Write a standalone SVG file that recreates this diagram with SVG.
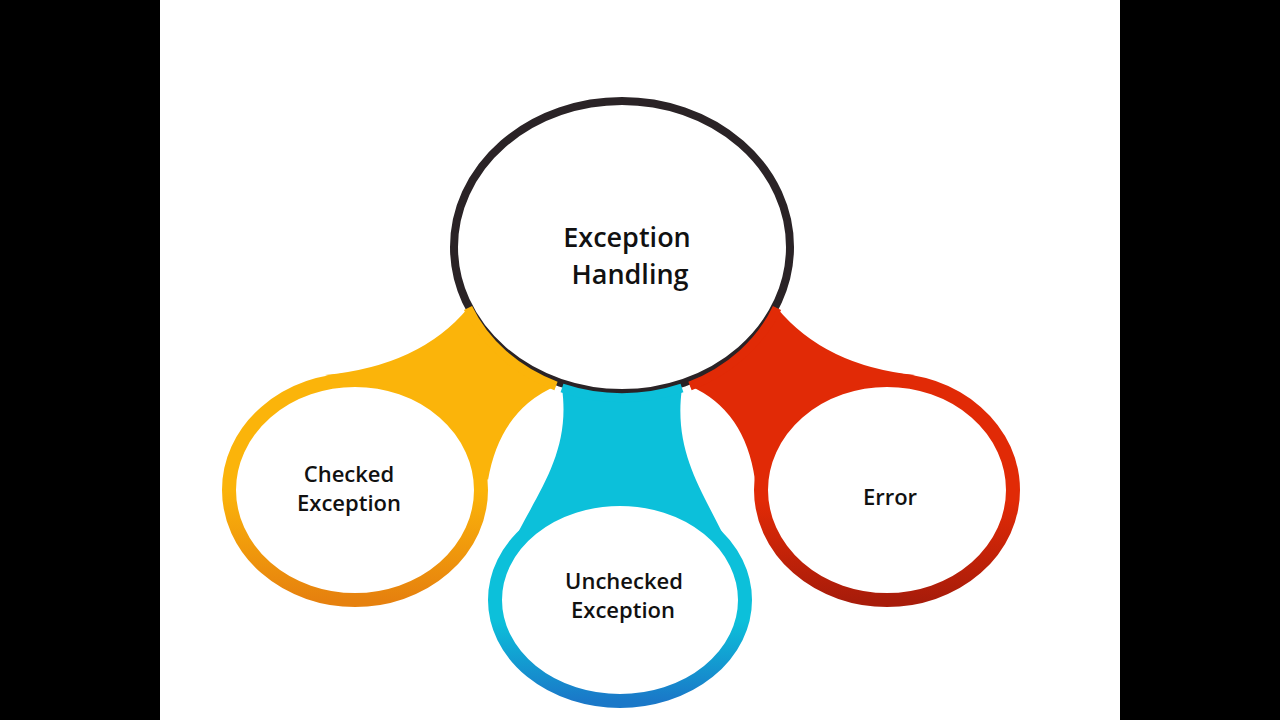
<svg xmlns="http://www.w3.org/2000/svg" width="1280" height="720" viewBox="0 0 1280 720">
<style>
.t{font-family:"Open Sans","Liberation Sans",sans-serif;font-weight:600;fill:#111;text-anchor:middle}
.s{font-size:22px}
.b{font-size:27px}
</style>
<defs>
<linearGradient id="go" x1="0" y1="0" x2="0" y2="1"><stop offset="0.5" stop-color="#fbb40a"/><stop offset="1" stop-color="#e6810e"/></linearGradient>
<linearGradient id="gc" x1="0" y1="0" x2="0" y2="1"><stop offset="0.6" stop-color="#0cc0da"/><stop offset="1" stop-color="#1a78c8"/></linearGradient>
<linearGradient id="gr" x1="0" y1="0" x2="0" y2="1"><stop offset="0.55" stop-color="#e12a06"/><stop offset="1" stop-color="#a81c0a"/></linearGradient>
</defs>
<rect width="1280" height="720" fill="#000"/>
<rect x="160" y="0" width="960" height="720" fill="#fff"/>
<g id="connectors">
<path d="M468,308 Q420,366 325,375 L420,400 L488,480 Q500,410 556,386 Z" fill="#fbb40a"/>
<path d="M562,388 C572,460 530,500 505,560 L735,560 C710,500 672,460 682,388 Z" fill="#0cc0da"/>
<path d="M777,308 Q825,366 915,375 L820,400 L755,480 Q745,410 690,386 Z" fill="#e12a06"/>
</g>
<g id="checked">
<ellipse cx="355" cy="490" rx="126" ry="110" fill="#fff" stroke="url(#go)" stroke-width="14"/>
<text class="t s" x="349" y="482">Checked</text>
<text class="t s" x="349" y="511">Exception</text>
</g>
<g id="unchecked">
<ellipse cx="620" cy="600" rx="125" ry="101" fill="#fff" stroke="url(#gc)" stroke-width="14"/>
<text class="t s" x="624" y="589">Unchecked</text>
<text class="t s" x="623" y="618">Exception</text>
</g>
<g id="error">
<ellipse cx="887" cy="490" rx="126" ry="110" fill="#fff" stroke="url(#gr)" stroke-width="14"/>
<text class="t s" x="890" y="505">Error</text>
</g>
<g id="top">
<ellipse cx="622" cy="247" rx="168" ry="146" fill="#fff" stroke="#2a2326" stroke-width="8"/>
<path d="M468,308 A168,146 0 0 0 556,386" fill="none" stroke="#fbb40a" stroke-width="9"/>
<path d="M562,388 A168,146 0 0 0 682,388" fill="none" stroke="#0cc0da" stroke-width="9"/>
<path d="M690,386 A168,146 0 0 0 777,308" fill="none" stroke="#e12a06" stroke-width="9"/>
<text class="t b" x="627" y="247">Exception</text>
<text class="t b" x="630" y="284">Handling</text>
</g>
</svg>
